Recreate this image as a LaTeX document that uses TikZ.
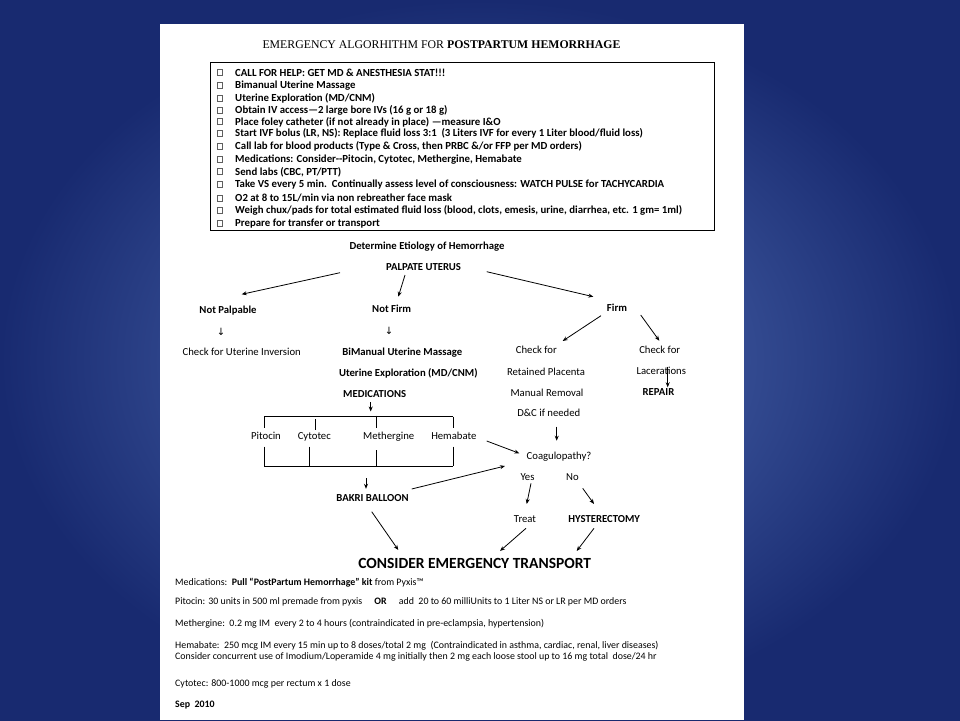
\documentclass[tikz,border=0pt]{standalone}
\usepackage{fontspec}
\setmainfont{Carlito}
\newfontfamily\seriffont{Liberation Serif}
\newfontfamily\symfont{DejaVu Sans}
\usetikzlibrary{arrows.meta}
\definecolor{bgin}{RGB}{84,114,184}
\definecolor{bgout}{RGB}{24,42,112}
\definecolor{boxgray}{RGB}{95,95,95}
\begin{document}
\begin{tikzpicture}[x=1pt,y=-1pt,
  txt/.style={inner sep=0pt, outer sep=0pt, text height=9pt, text depth=1.8pt, font=\fontsize{10.7}{12}\selectfont},
  btxt/.style={txt, font=\fontsize{10.7}{12}\selectfont\bfseries},
  item/.style={inner sep=0pt, anchor=west, text height=9pt, text depth=1.8pt, font=\fontsize{10.8}{12}\selectfont\bfseries},
  note/.style={inner sep=0pt, anchor=west, text height=8.3pt, text depth=1.7pt, font=\fontsize{9.9}{11}\selectfont},
  arr/.style={line width=0.8pt, -{Stealth[length=5pt,width=4pt]}},
  bracketline/.style={line width=1pt},
  chk/.style={draw=boxgray, line width=0.6pt, inner sep=0pt, minimum width=5pt, minimum height=6pt}]
\useasboundingbox (0,0) rectangle (960,720);
\shade[inner color=bgin, outer color=bgout] (0,0) rectangle (960,720);
\fill[white] (160,24) rectangle (744,720);

% title
\node[inner sep=0pt, font=\seriffont\fontsize{11.8}{14}\selectfont] (title) at (441.5,45)
  {EMERGENCY ALGORHITHM FOR \textbf{POSTPARTUM HEMORRHAGE}};

% checklist box
\node[draw, line width=1.2pt, minimum width=504pt, minimum height=168pt, inner sep=0pt, anchor=north west] (checklist) at (210,62) {};
\foreach \r [count=\i from 0] in {72.7,85.3,98,110,121.7,133.3,146,159.3,171.7,184,198.3,210,223.3}
  \node[chk] (cb\i) at (220,\r) {};
\node[item] (i1) at (235,72.7) {CALL FOR HELP: GET MD \& ANESTHESIA STAT!!!};
\node[item] (i2) at (235,85.3) {Bimanual Uterine Massage};
\node[item] (i3) at (235,98) {Uterine Exploration (MD/CNM)};
\node[item] (i4) at (235,110) {Obtain IV access—2 large bore IVs (16 g or 18 g)};
\node[item] (i5) at (235,121.7) {Place foley catheter (if not already in place) —measure I\&O};
\node[item] (i6) at (235,133.3) {Start IVF bolus (LR, NS): Replace fluid loss 3:1\ \ (3 Liters IVF for every 1 Liter blood/fluid loss)};
\node[item] (i7) at (235,146) {Call lab for blood products (Type \& Cross, then PRBC \&/or FFP per MD orders)};
\node[item] (i8) at (235,159.3) {Medications: Consider-{}-Pitocin, Cytotec, Methergine, Hemabate};
\node[item] (i9) at (235,171.7) {Send labs (CBC, PT/PTT)};
\node[item] (i10) at (235,184) {Take VS every 5 min.\ \ Continually assess level of consciousness: WATCH PULSE for TACHYCARDIA};
\node[item] (i11) at (235,198.3) {O2 at 8 to 15L/min via non rebreather face mask};
\node[item] (i12) at (235,210) {Weigh chux/pads for total estimated fluid loss (blood, clots, emesis, urine, diarrhea, etc. 1 gm= 1ml)};
\node[item] (i13) at (235,223.3) {Prepare for transfer or transport};

% flowchart text
\node[btxt] (determine) at (427,246) {Determine Etiology of Hemorrhage};
\node[btxt] (palp) at (423.5,267) {PALPATE UTERUS};
\node[btxt] (notpalp) at (228,310) {Not Palpable};
\node[btxt] (notfirm) at (391.7,309) {Not Firm};
\node[btxt] (firm) at (617,307.7) {Firm};
\node[inner sep=0pt, font=\symfont\fontsize{10}{11}\selectfont] (down1) at (221,331.7) {↓};
\node[inner sep=0pt, font=\symfont\fontsize{10}{11}\selectfont] (down2) at (389,331) {↓};
\node[txt] (checkinv) at (241.7,352.3) {Check for Uterine Inversion};
\node[btxt] (bimanual) at (402.3,351.7) {BiManual Uterine Massage};
\node[btxt] (explor) at (408.3,372.7) {Uterine Exploration (MD/CNM)};
\node[btxt] (meds) at (374.7,393.7) {MEDICATIONS};
\node[txt] (checkfor1) at (536.3,350) {Check for};
\node[txt] (retained) at (546,371.7) {Retained Placenta};
\node[txt] (manual) at (547,392.7) {Manual Removal};
\node[txt] (dc) at (548.8,413.3) {D\&C if needed};
\node[txt] (checkfor2) at (659.7,350) {Check for};
\node[txt] (lacer) at (661.3,371) {Lacerations};
\node[btxt] (repair) at (658.5,392.3) {REPAIR};
\node[txt] (pitocin) at (266,435.7) {Pitocin};
\node[txt] (cytotec) at (314.3,435.7) {Cytotec};
\node[txt] (metherg) at (388.7,435.7) {Methergine};
\node[txt] (hemabate) at (453.8,435.7) {Hemabate};
\node[txt] (coag) at (559,455.7) {Coagulopathy?};
\node[txt] (yes) at (527.5,476.7) {Yes};
\node[txt] (no) at (572.5,476.7) {No};
\node[btxt] (bakri) at (372.5,498.3) {BAKRI BALLOON};
\node[txt] (treat) at (525,518.7) {Treat};
\node[btxt] (hyst) at (604.2,518.7) {HYSTERECTOMY};
\node[inner sep=0pt, font=\fontsize{15.5}{17}\selectfont\bfseries] (transport) at (474.7,563.5) {CONSIDER EMERGENCY TRANSPORT};

% medication bracket
\draw[bracketline] (264,416.7) -- (453.3,416.7);
\draw[bracketline] (264,416.7) -- (264,428);
\draw[bracketline] (315,419) -- (315,430);
\draw[bracketline] (376,415.7) -- (376,428);
\draw[bracketline] (453.3,416.7) -- (453.3,428);
\draw[bracketline] (264,466) -- (453.3,466);
\draw[bracketline] (264,446.7) -- (264,466);
\draw[bracketline] (309,446.7) -- (309,466);
\draw[bracketline] (376.7,450) -- (376.7,466);
\draw[bracketline] (453.3,446.7) -- (453.3,466);

% arrow end points
\coordinate (a1s) at (340,272.7);   \coordinate (a1e) at (241.7,294.3);
\coordinate (a2s) at (405,275);     \coordinate (a2e) at (398.3,296.7);
\coordinate (a3s) at (486.7,271.7); \coordinate (a3e) at (593.3,296.7);
\coordinate (a4s) at (601,315.7);   \coordinate (a4e) at (562.7,341);
\coordinate (a5s) at (640.7,315);   \coordinate (a5e) at (659.3,340.7);
\coordinate (a6s) at (667.7,366.5); \coordinate (a6e) at (667.7,387.3);
\coordinate (a7s) at (370.7,402.2); \coordinate (a7e) at (370.7,411.5);
\coordinate (a8s) at (556.7,426.7); \coordinate (a8e) at (556.7,440.7);
\coordinate (a9s) at (486.7,441);   \coordinate (a9e) at (519.3,453.3);
\coordinate (a10s) at (366,478.3);  \coordinate (a10e) at (366,488.8);
\coordinate (a11s) at (411.7,489);  \coordinate (a11e) at (505,466);
\coordinate (a12s) at (531,483.3);  \coordinate (a12e) at (526.7,504);
\coordinate (a13s) at (582.7,488.3); \coordinate (a13e) at (594,504);
\coordinate (a14s) at (371.7,511.7); \coordinate (a14e) at (398.3,550);
\coordinate (a15s) at (526,528.3);  \coordinate (a15e) at (500,551);
\coordinate (a16s) at (594,528.3);  \coordinate (a16e) at (576.7,551);
\foreach \k in {1,...,16} \draw[arr] (a\k s) -- (a\k e);

% notes
\node[note] (n1) at (175,582) {Medications:\ \ \textbf{Pull “PostPartum Hemorrhage” kit} from Pyxis™};
\node[note] (n2) at (175,601) {Pitocin: 30 units in 500 ml premade from pyxis\quad\ \textbf{OR}\quad\ add\ \ 20 to 60 milliUnits to 1 Liter NS or LR per MD orders};
\node[note] (n3) at (175,623) {Methergine:\ \ 0.2 mg IM\ \ every 2 to 4 hours (contraindicated in pre-eclampsia, hypertension)};
\node[note] (n4) at (175,645) {Hemabate:\ \ 250 mcg IM every 15 min up to 8 doses/total 2 mg\ \ (Contraindicated in asthma, cardiac, renal, liver diseases)};
\node[note] (n5) at (175,656.5) {Consider concurrent use of Imodium/Loperamide 4 mg initially then 2 mg each loose stool up to 16 mg total\ \ dose/24 hr};
\node[note] (n6) at (175,683) {Cytotec: 800-1000 mcg per rectum x 1 dose};
\node[note, font=\fontsize{9.9}{11}\selectfont\bfseries] (n7) at (175,704) {Sep\ \ 2010};
\end{tikzpicture}
\end{document}
